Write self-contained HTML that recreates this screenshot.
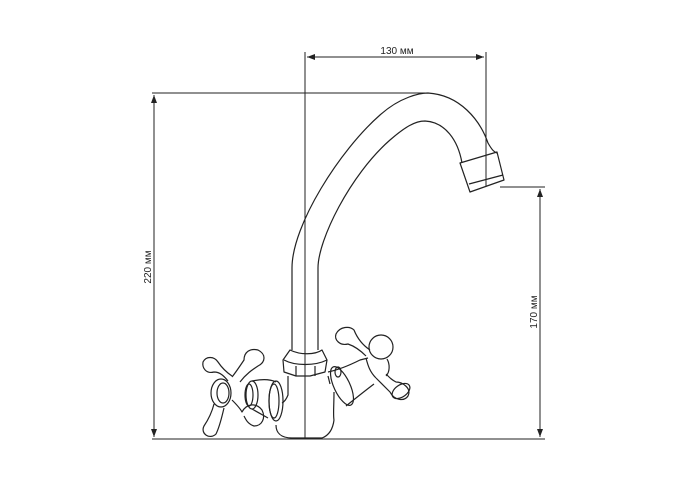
<!DOCTYPE html>
<html><head><meta charset="utf-8"><style>
html,body{margin:0;padding:0;background:#fff;}
svg{display:block}
text{font-family:"Liberation Sans",sans-serif;font-size:10px;fill:#222}
</style></head><body>
<svg width="700" height="500" viewBox="0 0 700 500" xmlns="http://www.w3.org/2000/svg">
<defs>
<marker id="a" markerWidth="8" markerHeight="6" refX="8" refY="3" orient="auto-start-reverse" markerUnits="userSpaceOnUse">
<path d="M0,0 L8,3 L0,6 Z" fill="#222"/></marker>
</defs>
<g stroke="#222" stroke-width="1" fill="none">
<line x1="152" y1="93" x2="425" y2="93"/>
<line x1="152" y1="439" x2="545" y2="439"/>
<line x1="305" y1="52" x2="305" y2="439"/>
<line x1="486" y1="52" x2="486" y2="187"/>
<line x1="500" y1="187" x2="545" y2="187"/>
<line x1="307" y1="57" x2="484" y2="57" marker-start="url(#a)" marker-end="url(#a)"/>
<line x1="154" y1="95" x2="154" y2="437" marker-start="url(#a)" marker-end="url(#a)"/>
<line x1="540" y1="189" x2="540" y2="437" marker-start="url(#a)" marker-end="url(#a)"/>
</g>
<text x="397" y="54" text-anchor="middle">130 мм</text>
<text transform="translate(151,267) rotate(-90)" text-anchor="middle">220 мм</text>
<text transform="translate(537,312) rotate(-90)" text-anchor="middle">170 мм</text>
<g stroke="#222" stroke-width="1.2" fill="none" stroke-linejoin="round">
<!-- spout -->
<path d="M292,350 L292,268 C292,225 340,150 380,115 C400,97 420,93 428,93 C460,95 480,120 488,143 C492,150 494,152 497,153"/>
<path d="M318,350 L318,268 C318,240 350,175 390,140 C405,127 415,121 425,121 C445,122 458,140 462,163"/>
<!-- nozzle -->
<path d="M460,163 L497,152 L504,180 L470,192 Z"/>
<path d="M469,184 L503,175"/>
<!-- nut -->
<path d="M290,350 C300,355 315,355 322,350 L327,360 L325,372 L310,376 L296,376 L284,372 L283,360 Z"/>
<path d="M284,360 C295,366 315,366 327,360"/>
<line x1="296" y1="366" x2="296" y2="376"/><line x1="315" y1="366" x2="315" y2="376"/>
<!-- body -->
<path d="M288,376 L288,395 C286,400 284,402 282,403"/>
<path d="M276,425 C276,432 280,438 292,438 L322,438 C330,435 333,428 334,420"/>
<path d="M328,376 L330,384"/>
<!-- left connector -->
<path d="M252,381 C262,379 270,379 276,382"/>
<path d="M252,409 L268,418"/>
<ellipse cx="276" cy="401" rx="7" ry="20"/>
<ellipse cx="274" cy="401" rx="5" ry="17"/>
<ellipse cx="252" cy="395" rx="6" ry="14"/>
<ellipse cx="249" cy="395" rx="4" ry="11"/>
<!-- left cross -->
<path d="M228,381 C224,376 220,372 214,372 C206,374 202,368 203,362 C206,356 214,356 218,362 C222,368 226,372 232,376"/>
<path d="M232,377 C236,372 240,366 244,360 C244,352 250,348 258,350 C266,354 266,362 258,366 C252,370 246,374 240,382"/>
<path d="M214,404 C212,412 208,420 204,426 C200,434 210,440 216,434 C220,426 222,416 224,408"/>
<path d="M232,400 C236,404 240,408 242,412 C246,404 256,402 262,410 C266,418 262,426 254,426 C248,424 246,420 244,416"/>
<ellipse cx="221" cy="393" rx="10" ry="14"/>
<ellipse cx="223" cy="393" rx="6" ry="10"/>
<!-- right connector -->
<path d="M328,372 C338,370 348,366 360,360 L368,358"/>
<path d="M346,406 C356,398 366,390 374,384"/>
<ellipse cx="342" cy="386" rx="8" ry="21" transform="rotate(-25 342 386)"/>
<ellipse cx="338" cy="372" rx="3" ry="5"/>
<path d="M334,392 C334,405 333,415 334,420"/>
<!-- right cross -->
<path d="M366,356 C360,350 354,346 348,344 C340,346 334,340 336,334 C340,326 350,326 354,330 C358,340 364,346 370,350"/>
<circle cx="381" cy="347" r="12"/>
<path d="M387,359 C390,364 390,372 386,376"/>
<path d="M376,378 C382,384 386,388 390,392 C394,400 404,402 408,396 C412,388 402,382 396,382 C392,380 390,378 386,374"/>
<ellipse cx="401" cy="391" rx="10" ry="6" transform="rotate(-35 401 391)"/>
<path d="M366,358 C368,366 370,372 376,378"/>
</g>
</svg>
</body></html>
